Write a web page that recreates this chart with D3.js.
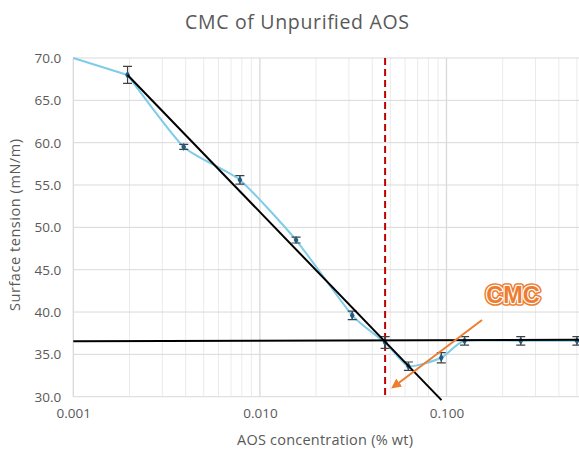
<!DOCTYPE html>
<html>
<head>
<meta charset="utf-8">
<script src="https://cdn.jsdelivr.net/npm/d3@7"></script>
<style>
  html, body { margin: 0; padding: 0; background: #fff; }
  svg { display: block; font-family: "Open Sans", "Liberation Sans", sans-serif; }
</style>
</head>
<body>
<svg id="chart" width="579" height="452"></svg>
<script>
// ---- data ----
const concentrations = [0.001, 0.001953, 0.003906, 0.0078125, 0.015625, 0.03125, 0.046875, 0.0625, 0.09375, 0.125, 0.25, 0.5];
const tensions       = [70.0, 68.0, 59.5, 55.6, 48.5, 39.6, 36.4, 33.6, 34.6, 36.6, 36.6, 36.6];
const errors         = [null, 1.0, 0.3, 0.5, 0.35, 0.5, 0.7, 0.5, 0.6, 0.5, 0.5, 0.5];
const steepFitX = [0.001953, 0.094];
const steepFitY = [68.0, 29.6];
const flatFitX = [0.001, 0.52];
const flatFitY = [36.55, 36.72];
const cmcX = 0.046875;
const xTickValues = [0.001, 0.01, 0.1];
const xTickLabels = ["0.001", "0.010", "0.100"];
const yTickValues = [30, 35, 40, 45, 50, 55, 60, 65, 70];
const titleText = "CMC of Unpurified AOS";
const xTitle = "AOS concentration (% wt)";
const yTitle = "Surface tension (mN/m)";
const annotation = "CMC";

(function () {
// ---- layout ----
const svg = d3.select("#chart");
const pLeft = 73.3, pTop = 58, pBottom = 396.7, decade = 186.6;
const x = d3.scaleLog().domain([0.001, 1]).range([pLeft, pLeft + 3 * decade]);
const y = d3.scaleLinear().domain([30, 70]).range([pBottom, pTop]);
const plotRight = 579;

const gray = "#595959";

// clip
svg.append("defs").append("clipPath").attr("id", "plotclip")
  .append("rect").attr("x", pLeft).attr("y", pTop - 20).attr("width", plotRight - pLeft).attr("height", pBottom - pTop + 40);

// minor vertical grid
const minors = [];
[0.001, 0.01, 0.1].forEach(d => { for (let k = 2; k <= 9; k++) minors.push(d * k); });
svg.append("g").selectAll("line").data(minors).join("line")
  .attr("x1", d => x(d)).attr("x2", d => x(d))
  .attr("y1", pTop).attr("y2", pBottom)
  .attr("stroke", "#ebebeb").attr("stroke-width", 1);

// horizontal grid
svg.append("g").selectAll("line").data(yTickValues).join("line")
  .attr("x1", pLeft).attr("x2", plotRight)
  .attr("y1", d => y(d)).attr("y2", d => y(d))
  .attr("stroke", "#d9d9d9").attr("stroke-width", 1);

// major vertical grid
svg.append("g").selectAll("line").data(xTickValues).join("line")
  .attr("x1", d => x(d)).attr("x2", d => x(d))
  .attr("y1", pTop).attr("y2", pBottom)
  .attr("stroke", "#d9d9d9").attr("stroke-width", 1.3);

// axes (labels only)
const xAxis = d3.axisBottom(x).tickValues(xTickValues).tickFormat((d, i) => xTickLabels[i]).tickSize(0).tickPadding(12);
const gx = svg.append("g").attr("transform", `translate(0,${pBottom})`).call(xAxis);
gx.select(".domain").remove();
gx.selectAll("text").attr("fill", gray).style("font-size", "13.5px").style("font-family", "'Open Sans', sans-serif");

const yAxis = d3.axisLeft(y).tickValues(yTickValues).tickFormat(d3.format(".1f")).tickSize(0).tickPadding(12);
const gy = svg.append("g").attr("transform", `translate(${pLeft},0)`).call(yAxis);
gy.select(".domain").remove();
gy.selectAll("text").attr("fill", gray).style("font-size", "13.5px").style("font-family", "'Open Sans', sans-serif");

// titles
svg.append("text").attr("x", 297).attr("y", 29).attr("text-anchor", "middle")
  .attr("fill", gray).style("font-size", "19.5px")
  .attr("textLength", 224).attr("lengthAdjust", "spacing").text(titleText);
svg.append("text").attr("x", 325).attr("y", 445).attr("text-anchor", "middle")
  .attr("fill", gray).style("font-size", "14.5px")
  .attr("textLength", 176).attr("lengthAdjust", "spacing").text(xTitle);
svg.append("text").attr("transform", `translate(20,225) rotate(-90)`).attr("text-anchor", "middle")
  .attr("fill", gray).style("font-size", "14.5px")
  .attr("textLength", 172).attr("lengthAdjust", "spacing").text(yTitle);

const plot = svg.append("g").attr("clip-path", "url(#plotclip)");

// data line: straight first segment, smoothed remainder
const pts = concentrations.map((c, i) => ({ c, t: tensions[i], e: errors[i] }));
const lineStraight = d3.line().x(d => x(d.c)).y(d => y(d.t));
const lineSmooth = d3.line().x(d => x(d.c)).y(d => y(d.t)).curve(d3.curveCardinal.tension(0.45));
plot.append("path").datum(pts.slice(0, 2))
  .attr("fill", "none").attr("stroke", "#7ecbea").attr("stroke-width", 2).attr("stroke-linecap", "round")
  .attr("d", lineStraight);
plot.append("path").datum(pts.slice(1))
  .attr("fill", "none").attr("stroke", "#7ecbea").attr("stroke-width", 2).attr("stroke-linecap", "round")
  .attr("d", lineSmooth);

// red dashed CMC line
plot.append("line")
  .attr("x1", x(cmcX)).attr("x2", x(cmcX)).attr("y1", pTop).attr("y2", pBottom)
  .attr("stroke", "#c00000").attr("stroke-width", 2).attr("stroke-dasharray", "7,4");

// error bars
const eb = plot.append("g").attr("stroke", "#404040").attr("stroke-width", 1.2);
pts.filter(d => d.e != null).forEach(d => {
  const cx = x(d.c), y1 = y(d.t + d.e), y2 = y(d.t - d.e);
  eb.append("line").attr("x1", cx).attr("x2", cx).attr("y1", y1).attr("y2", y2);
  eb.append("line").attr("x1", cx - 4.5).attr("x2", cx + 4.5).attr("y1", y1).attr("y2", y1);
  eb.append("line").attr("x1", cx - 4.5).attr("x2", cx + 4.5).attr("y1", y2).attr("y2", y2);
});

// markers
plot.append("g").selectAll("path").data(pts.filter(d => d.e != null)).join("path")
  .attr("transform", d => `translate(${x(d.c)},${y(d.t)})`)
  .attr("d", d3.symbol().type(d3.symbolDiamond).size(20))
  .attr("fill", "#1f5c80");

// fit lines
const fitLine = d3.line().x(d => x(d[0])).y(d => y(d[1]));
svg.append("path").datum(flatFitX.map((v, i) => [v, flatFitY[i]]))
  .attr("fill", "none").attr("stroke", "#000").attr("stroke-width", 2).attr("d", fitLine);
svg.append("path").datum(steepFitX.map((v, i) => [v, steepFitY[i]]))
  .attr("fill", "none").attr("stroke", "#000").attr("stroke-width", 2).attr("d", fitLine);

// arrow
const orange = "#ed7d31";
svg.append("defs").append("marker").attr("id", "arrowhead")
  .attr("viewBox", "0 0 10 10").attr("refX", 4).attr("refY", 5)
  .attr("markerWidth", 5).attr("markerHeight", 5).attr("orient", "auto")
  .append("path").attr("d", "M0,0 L10,5 L0,10 z").attr("fill", orange);
svg.append("line")
  .attr("x1", 482).attr("y1", 320).attr("x2", 396).attr("y2", 385)
  .attr("stroke", orange).attr("stroke-width", 2).attr("marker-end", "url(#arrowhead)");

// CMC label with outlined effect
const lab = svg.append("g").style("font-family", "'Liberation Sans', Arial, sans-serif").style("font-weight", "bold").style("font-size", "23.5px");
lab.append("text").attr("x", 513).attr("y", 303).attr("text-anchor", "middle")
  .attr("fill", orange).attr("stroke", orange).attr("stroke-width", 5.5).attr("stroke-linejoin", "round").text(annotation);
lab.append("text").attr("x", 513).attr("y", 303).attr("text-anchor", "middle")
  .attr("fill", orange).attr("stroke", "#ffffff").attr("stroke-width", 2.4).attr("stroke-linejoin", "round").text(annotation);
lab.append("text").attr("x", 513).attr("y", 303).attr("text-anchor", "middle")
  .attr("fill", orange).text(annotation);
})();
</script>
</body>
</html>
